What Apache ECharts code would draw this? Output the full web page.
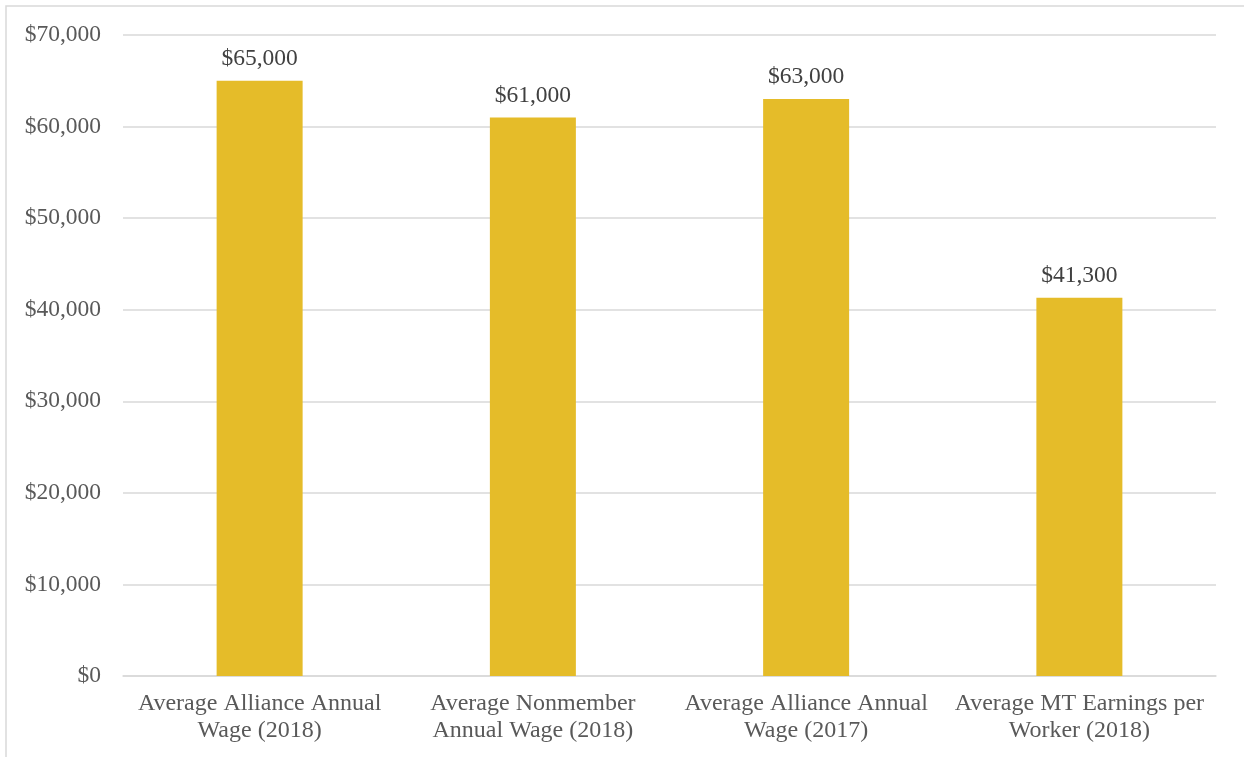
<!DOCTYPE html>
<html><head><meta charset="utf-8">
<script src="https://cdn.jsdelivr.net/npm/echarts@6/dist/echarts.min.js"></script>
<style>html,body{margin:0;padding:0;background:#fff}#c{width:1244px;height:757px}</style>
</head><body><div id="c"></div>
<script>
const categories = ["Average Alliance Annual\nWage (2018)", "Average Nonmember\nAnnual Wage (2018)", "Average Alliance Annual\nWage (2017)", "Average MT Earnings per\nWorker (2018)"];
const values = [65000, 61000, 63000, 41300];
const yMin = 0, yMax = 70000, yInterval = 10000;

const fmt = v => '$' + v.toLocaleString('en-US');
const chart = echarts.init(document.getElementById('c'));
const font = '"Liberation Serif", "Times New Roman", serif';
chart.setOption({
  animation: false,
  textStyle: {fontFamily: font},
  graphic: [{type: 'rect', shape: {x: 6, y: 6, width: 1400, height: 1000}, style: {fill: 'none', stroke: '#d9d9d9', lineWidth: 1.5}, silent: true}],
  grid: {left: 123, right: 28, top: 35, bottom: 81},
  xAxis: {
    type: 'category', data: categories,
    axisLine: {lineStyle: {color: '#d9d9d9', width: 1.5}},
    axisTick: {show: false},
    axisLabel: {color: '#595959', fontSize: 24, fontFamily: font, lineHeight: 27, margin: 14, interval: 0}
  },
  yAxis: {
    type: 'value', min: yMin, max: yMax, interval: yInterval,
    axisLine: {show: false}, axisTick: {show: false},
    splitLine: {lineStyle: {color: '#d9d9d9', width: 1.5}},
    axisLabel: {color: '#595959', fontSize: 23.5, fontFamily: font, margin: 22, formatter: fmt}
  },
  series: [{
    type: 'bar', data: values, barWidth: 86,
    itemStyle: {color: '#E5BC29'},
    label: {show: true, position: 'top', distance: 10, color: '#404040', fontSize: 23.5, fontFamily: font, formatter: p => fmt(p.value)}
  }]
});
</script></body></html>
